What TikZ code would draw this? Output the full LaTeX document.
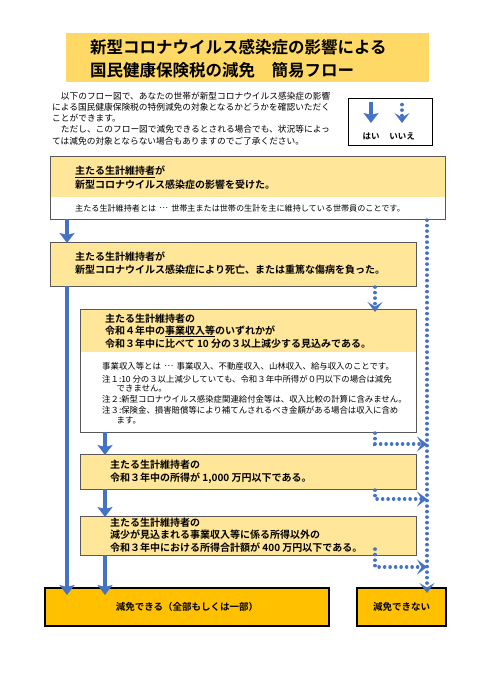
\documentclass[tikz,border=0pt]{standalone}
\usepackage{fontspec}
\setmainfont{Noto Sans CJK JP}[BoldFont={Noto Sans CJK JP Bold}]
\usetikzlibrary{arrows.meta}
\definecolor{hdr}{HTML}{FFE699}
\definecolor{ttl}{HTML}{FFD966}
\definecolor{res}{HTML}{FFC000}
\definecolor{arr}{HTML}{4472C4}
\definecolor{bord}{HTML}{595959}
\newcommand{\midell}{\hspace{0.4em}\raisebox{0.3em}{…}\hspace{0.4em}}
\tikzset{
  panel/.style={rectangle, inner sep=0pt, outer sep=0pt, anchor=north west},
  hdrbox/.style={panel, fill=hdr},
  border/.style={draw=bord, line width=0.9pt},
  resbox/.style={panel, fill=res, draw=black, line width=2.6pt, font=\fontsize{9.5}{11}\selectfont\bfseries},
  ttltext/.style={anchor=west, inner sep=0pt, font=\fontsize{16.5}{19}\selectfont\bfseries},
  introtext/.style={anchor=west, inner sep=0pt, font=\fontsize{8.7}{10}\selectfont},
  hdtext/.style={anchor=west, inner sep=0pt, font=\fontsize{10}{12}\selectfont\bfseries},
  notetext/.style={anchor=west, inner sep=0pt, font=\fontsize{8.4}{10}\selectfont},
  lgtext/.style={anchor=center, inner sep=0pt, font=\fontsize{8.5}{10}\selectfont\bfseries},
  yesarrow/.style={draw=arr, line width=4pt, -{Stealth[length=10pt,width=15pt,inset=2pt]}},
  noarrow/.style={draw=arr, line width=3.4pt, line cap=round, dash pattern=on 0.2pt off 5.3pt, -{Stealth[length=10pt,width=15pt,inset=4.5pt,line cap=butt]}}
}
\begin{document}
\begin{tikzpicture}[x=1pt,y=-1pt]
\path[use as bounding box, fill=white] (0,0) rectangle (494,700);

% title
\node[panel, fill=ttl, minimum width=363pt, minimum height=49pt] (title) at (66,33) {};
\node[ttltext] (t1) at (90,47) {新型コロナウイルス感染症の影響による};
\node[ttltext] (t2) at (90,70) {国民健康保険税の減免　簡易フロー};

% intro
\node[introtext] (i1) at (52,95.7) {　以下のフロー図で、あなたの世帯が新型コロナウイルス感染症の影響};
\node[introtext] (i2) at (52,107.2) {による国民健康保険税の特例減免の対象となるかどうかを確認いただく};
\node[introtext] (i3) at (52,118.3) {ことができます。};
\node[introtext] (i4) at (52,129.4) {　ただし、このフロー図で減免できるとされる場合でも、状況等によっ};
\node[introtext] (i5) at (52,140.7) {ては減免の対象とならない場合もありますのでご了承ください。};

% legend
\node[panel, draw=black, line width=1pt, minimum width=84pt, minimum height=47pt] (lg) at (348,99) {};
\coordinate (ly1) at (371,102);
\coordinate (ly2) at (371,123);
\coordinate (ln1) at (402,104.5);
\coordinate (ln2) at (402,123);
\draw[yesarrow] (ly1) -- (ly2);
\draw[noarrow] (ln1) -- (ln2);
\node[lgtext] (lgy) at (371,136) {はい};
\node[lgtext] (lgn) at (402,136) {いいえ};

% box 1
\node[panel, fill=white, minimum width=395pt, minimum height=63pt] (b1) at (50,156) {};
\fill[hdr] (b1.north west) rectangle ([yshift=-41pt]b1.north east);
\draw[border] (b1.north west) rectangle (b1.south east);
\node[hdtext] (b1a) at (75,172) {\underline{主たる生計維持者}が};
\node[hdtext] (b1b) at (75,184.5) {新型コロナウイルス感染症の影響を受けた。};
\node[notetext, font=\fontsize{8.1}{10}\selectfont] (b1c) at (75,208) {主たる生計維持者とは\midell 世帯主または世帯の生計を主に維持している世帯員のことです。};

% box 2
\node[hdrbox, minimum width=366pt, minimum height=44pt] (b2) at (50,242) {};
\draw[border] (b2.north west) rectangle (b2.south east);
\node[hdtext] (b2a) at (75,257) {主たる生計維持者が};
\node[hdtext] (b2b) at (75,270) {新型コロナウイルス感染症により死亡、または重篤な傷病を負った。};

% box 3
\node[panel, fill=white, minimum width=336pt, minimum height=123pt] (b3) at (80,309) {};
\fill[hdr] (b3.north west) rectangle ([yshift=-43pt]b3.north east);
\draw[border] (b3.north west) rectangle (b3.south east);
\node[hdtext] (b3a) at (105,319) {主たる生計維持者の};
\node[hdtext] (b3b) at (105,331.5) {令和４年中の\underline{事業収入等}のいずれかが};
\node[hdtext] (b3c) at (105,344) {令和３年中に比べて 10 分の３以上減少する見込みである。};
\node[notetext] (b3d) at (102,366) {事業収入等とは\midell 事業収入、不動産収入、山林収入、給与収入のことです。};
\node[notetext] (b3e) at (102,379) {注１:10 分の３以上減少していても、令和３年中所得が０円以下の場合は減免};
\node[notetext] (b3f) at (116.5,388) {できません。};
\node[notetext] (b3g) at (102,399) {注２:新型コロナウイルス感染症関連給付金等は、収入比較の計算に含みません。};
\node[notetext] (b3h) at (102,410) {注３:保険金、損害賠償等により補てんされるべき金額がある場合は収入に含め};
\node[notetext] (b3i) at (116.5,420) {ます。};

% box 4
\node[hdrbox, minimum width=336pt, minimum height=35pt] (b4) at (80,454) {};
\draw[border] (b4.north west) rectangle (b4.south east);
\node[hdtext] (b4a) at (110,465) {主たる生計維持者の};
\node[hdtext] (b4b) at (110,478) {令和３年中の所得が 1,000 万円以下である。};

% box 5
\node[hdrbox, minimum width=336pt, minimum height=39pt] (b5) at (80,516) {};
\draw[border] (b5.north west) rectangle (b5.south east);
\node[hdtext] (b5a) at (110,522.5) {主たる生計維持者の};
\node[hdtext] (b5b) at (110,535) {減少が見込まれる事業収入等に係る所得以外の};
\node[hdtext] (b5c) at (110,547.5) {令和３年中における所得合計額が 400 万円以下である。};

% results
\node[resbox, minimum width=284pt, minimum height=38pt] (r1) at (45,588) {};
\node[inner sep=0pt, font=\fontsize{9.5}{11}\selectfont\bfseries] (r1t) at (r1.center) {減免できる（全部もしくは一部）};
\node[resbox, minimum width=89pt, minimum height=38pt] (r2) at (357,588) {};
\node[inner sep=0pt, font=\fontsize{9.5}{11}\selectfont\bfseries] (r2t) at (r2.center) {減免できない};

% connector columns
\coordinate (xA) at (67,0);
\coordinate (xB) at (105,0);
\coordinate (xD) at (375,0);
\coordinate (xR) at (427,0);

% yes arrows
\draw[yesarrow] (b1.south -| xA) -- ([yshift=-1pt]b2.north -| xA);
\draw[yesarrow] (b2.south -| xA) -- ([yshift=-7pt]r1.north -| xA);
\draw[yesarrow] (b3.south -| xB) -- ([yshift=-1pt]b4.north -| xB);
\draw[yesarrow] (b4.south -| xB) -- ([yshift=-1pt]b5.north -| xB);
\draw[yesarrow] (b5.south -| xB) -- ([yshift=-7pt]r1.north -| xB);

% no arrows
\draw[noarrow] ([yshift=-1pt]b1.south -| xR) -- ([yshift=-5pt]r2.north -| xR);
\draw[noarrow] ([yshift=-1pt]b2.south -| xD) -- ([yshift=-3pt]b3.north -| xD);
\draw[noarrow] ([yshift=-1pt]b3.south -| xD) |- ([yshift=-12pt]b3.south -| xR);
\draw[noarrow] ([yshift=-1pt]b4.south -| xD) |- ([yshift=-10pt]b4.south -| xR);
\draw[noarrow] ([yshift=6pt]b5.south -| xD) |- ([yshift=-12pt]b5.south -| xR);
\end{tikzpicture}
\end{document}
